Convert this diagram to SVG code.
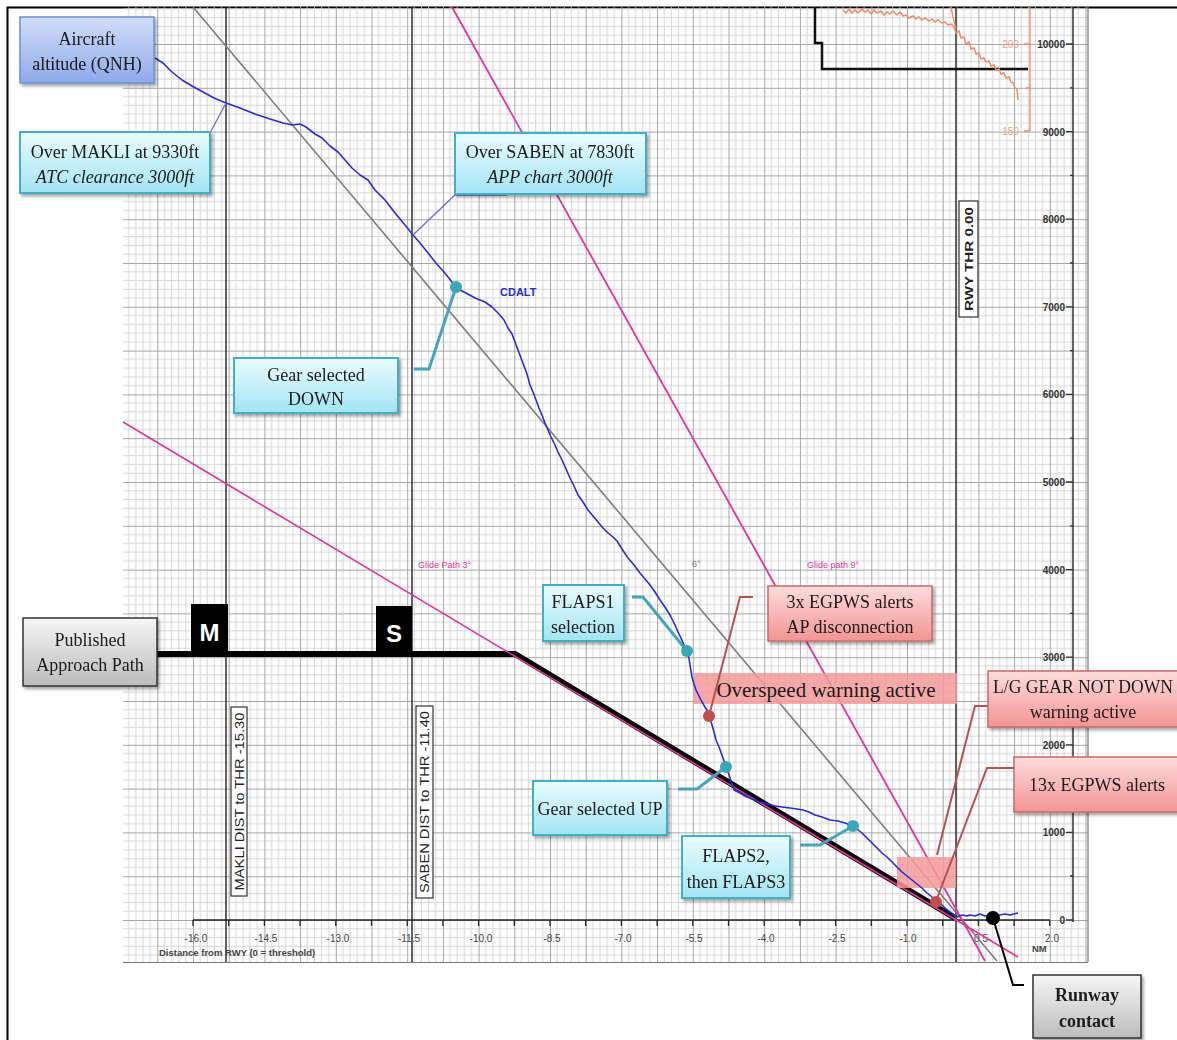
<svg xmlns="http://www.w3.org/2000/svg" width="1177" height="1040" viewBox="0 0 1177 1040">
<style>
.box{font-family:"Liberation Serif","Times New Roman",serif;font-size:18px;fill:#1a1a1a;text-anchor:middle}
.it{font-style:italic}
.ax{font-family:"Liberation Sans",Arial,sans-serif;font-size:9.5px;font-weight:bold;fill:#444}
.ay{font-family:"Liberation Sans",Arial,sans-serif;font-size:10px;font-weight:bold;fill:#333}
.vl{fill:#fff;stroke:#333;stroke-width:1.2}
.vt{font-family:"Liberation Sans",Arial,sans-serif;font-size:12px;fill:#222;text-anchor:middle}
.cyan{fill:url(#gCyan);stroke:#3fb0c8;stroke-width:2}
.red{fill:url(#gRed);stroke:#c86a6a;stroke-width:1.5}
.gray{fill:url(#gGray);stroke:#333;stroke-width:1.5}
.tl{fill:none;stroke:#44a6b8;stroke-width:3}
.rl{fill:none;stroke:#b5524d;stroke-width:2}
</style>
<defs>
<pattern id="grid" patternUnits="userSpaceOnUse" x="193" y="920" width="35.7" height="43.8">
<path d="M7.14 0V43.8M14.28 0V43.8M21.42 0V43.8M28.56 0V43.8M0 8.76H35.7M0 17.52H35.7M0 26.28H35.7M0 35.04H35.7" stroke="#d2d2d2" stroke-width="0.9" fill="none"/>
<path d="M0.5 0V43.8M0 0.5H35.7" stroke="#a6a6a6" stroke-width="1" fill="none"/>
</pattern>
<linearGradient id="gCyan" x1="0" y1="0" x2="0" y2="1"><stop offset="0" stop-color="#eafcff"/><stop offset="1" stop-color="#a3e4f3"/></linearGradient>
<linearGradient id="gBlue" x1="0" y1="0" x2="0" y2="1"><stop offset="0" stop-color="#d3defa"/><stop offset="1" stop-color="#8eaaea"/></linearGradient>
<linearGradient id="gRed" x1="0" y1="0" x2="0" y2="1"><stop offset="0" stop-color="#ffdcdc"/><stop offset="1" stop-color="#f29494"/></linearGradient>
<linearGradient id="gGray" x1="0" y1="0" x2="0" y2="1"><stop offset="0" stop-color="#f6f6f6"/><stop offset="1" stop-color="#bcbcbc"/></linearGradient>
<filter id="sh" x="-10%" y="-10%" width="130%" height="140%"><feDropShadow dx="2" dy="2.5" stdDeviation="1.5" flood-color="#000" flood-opacity="0.35"/></filter>
</defs>
<rect width="1177" height="1040" fill="#fff"/>
<g id="frame">
<path d="M7.5 1040V7.5H1177" fill="none" stroke="#000" stroke-width="2"/>
</g>
<g id="chart">
<rect x="123" y="7" width="965" height="955" fill="url(#grid)"/>
<path d="M123 962.5H1088M1088 7V962" stroke="#777" stroke-width="1.2" fill="none"/>
<path d="M226 7V962M412 7V962M956 7V962" stroke="#222" stroke-width="1.4" fill="none"/>
<!-- x axis -->
<path d="M193 920H1050" stroke="#222" stroke-width="1.5"/>
<path d="M193 920v6M228.7 920v6M264.4 920v6M300.1 920v6M335.8 920v6M371.5 920v6M407.2 920v6M442.9 920v6M478.6 920v6M514.3 920v6M550 920v6M585.7 920v6M621.4 920v6M657.1 920v6M692.8 920v6M728.5 920v6M764.2 920v6M799.9 920v6M835.6 920v6M871.3 920v6M907 920v6M942.7 920v6M978.4 920v6M1014.1 920v6M1049.8 920v6" stroke="#222" stroke-width="1.3"/>
<g class="ax" text-anchor="middle" style="font-weight:normal;font-size:10px">
<text x="196" y="942">-16.0</text><text x="266" y="942">-14.5</text><text x="338" y="942">-13.0</text><text x="409" y="942">-11.5</text><text x="481" y="942">-10.0</text><text x="552" y="942">-8.5</text><text x="623" y="942">-7.0</text><text x="694" y="942">-5.5</text><text x="766" y="942">-4.0</text><text x="837" y="942">-2.5</text><text x="908" y="942">-1.0</text><text x="981" y="942">0.5</text><text x="1052" y="942">2.0</text>
</g>
<text class="ax" x="159" y="956">Distance from RWY (0 = threshold)</text>
<text class="ax" x="1032" y="952">NM</text>
<!-- y axis -->
<path d="M1073 7V922" stroke="#333" stroke-width="1.5"/>
<path d="M1066 920H1073M1070 876H1073M1066 832.4H1073M1070 788.6H1073M1066 744.8H1073M1070 701H1073M1066 657.2H1073M1070 613.4H1073M1066 569.6H1073M1070 525.8H1073M1066 482H1073M1070 438.2H1073M1066 394.4H1073M1070 350.6H1073M1066 306.8H1073M1070 263H1073M1066 219.2H1073M1070 175.4H1073M1066 131.6H1073M1070 87.8H1073M1066 44H1073" stroke="#333" stroke-width="1.3"/>
<g class="ay" text-anchor="end">
<text x="1065" y="923.5">0</text><text x="1065" y="836">1000</text><text x="1065" y="748.5">2000</text><text x="1065" y="661">3000</text><text x="1065" y="573.5">4000</text><text x="1065" y="485.5">5000</text><text x="1065" y="398">6000</text><text x="1065" y="310.5">7000</text><text x="1065" y="223">8000</text><text x="1065" y="135.5">9000</text><text x="1065" y="47.5">10000</text>
</g>
<!-- top right inset -->
<path d="M815 7V43H822V69H1028" fill="none" stroke="#111" stroke-width="2.5"/>
<path d="M1030 7V131M1024 44H1030M1026 88H1030M1024 131H1030" stroke="#f08a6a" stroke-width="1.3" fill="none"/>
<text x="1019" y="47.5" font-family="Liberation Sans,Arial,sans-serif" font-size="10" fill="#f4a083" text-anchor="end">200</text>
<text x="1019" y="134.5" font-family="Liberation Sans,Arial,sans-serif" font-size="10" fill="#f4a083" text-anchor="end">150</text>
<path d="M843 10L846 13 849 9 852 13 855 10 858 13 862 9 865 12 868 10 871 14 874 10 877 13 881 11 884 15 887 12 890 14 893 11 897 15 900 12 903 16 906 15 909 18 913 16 916 19 919 17 922 20 925 18 929 21 932 19 935 22 938 20 942 23 945 22 948 25 951 24 954 27 956 33 959 31 961 38 964 37 966 44 969 42 971 49 974 48 976 54 979 53 981 59 984 58 986 62 989 61 991 66 994 65 996 70 999 69 1001 74 1004 73 1006 78 1009 77 1011 82 1013 83 1015 88 1017 89 1018 100" fill="none" stroke="#f08a6a" stroke-width="1.5"/>
<path d="M951 7l2 10 3 12" fill="none" stroke="#f08a6a" stroke-width="1.3"/>
<!-- reference glide lines -->
<path d="M193 7L997 961" stroke="#7d7d7d" stroke-width="1.6"/>
<path d="M452 7L985 961" stroke="#e0359a" stroke-width="1.8"/>
<!-- published approach path -->
<path d="M157 654H515L955 918" fill="none" stroke="#000" stroke-width="6"/>
<path d="M123 422L1018 957" stroke="#e0359a" stroke-width="1.6"/>
<g id="M"><rect x="191" y="604" width="37" height="50" fill="#000"/><text x="209.5" y="641" font-family="Liberation Sans,Arial,sans-serif" font-size="24" font-weight="bold" fill="#fff" text-anchor="middle">M</text></g>
<g id="S"><rect x="376" y="606" width="36" height="48" fill="#000"/><text x="394" y="642" font-family="Liberation Sans,Arial,sans-serif" font-size="24" font-weight="bold" fill="#fff" text-anchor="middle">S</text></g>
<!-- chart labels -->
<text x="418" y="568" font-family="Liberation Sans,Arial,sans-serif" font-size="9" fill="#e0359a">Glide Path 3°</text>
<text x="692" y="567" font-family="Liberation Sans,Arial,sans-serif" font-size="9" fill="#777">6°</text>
<text x="807" y="568" font-family="Liberation Sans,Arial,sans-serif" font-size="9" fill="#e0359a">Glide path 9°</text>
<text x="500" y="296" font-family="Liberation Sans,Arial,sans-serif" font-size="11" font-weight="bold" fill="#2a2acc">CDALT</text>
<!-- vertical labels -->
<g id="makli-label"><rect class="vl" x="231" y="707" width="16" height="189"/><text class="vt" transform="translate(243.5,801.5) rotate(-90)" textLength="178" lengthAdjust="spacingAndGlyphs">MAKLI DIST to THR -15.30</text></g>
<g id="saben-label"><rect class="vl" x="416" y="706" width="17" height="192"/><text class="vt" transform="translate(429,802) rotate(-90)" textLength="182" lengthAdjust="spacingAndGlyphs">SABEN DIST to THR -11.40</text></g>
<g id="rwy-label"><rect class="vl" x="959" y="201" width="19" height="116"/><text class="vt" style="font-weight:bold;font-size:11px" transform="translate(972.5,259) rotate(-90)" textLength="104" lengthAdjust="spacingAndGlyphs">RWY THR  0.00</text></g>
<!-- warning bands -->
<rect x="694" y="673" width="263" height="31" fill="#f39a9a" opacity="0.85"/>
<text class="box" x="826" y="697" style="font-size:21px">Overspeed warning active</text>
<rect x="897" y="857" width="59" height="31" fill="#f39a9a" opacity="0.85"/>
<!-- altitude trace -->
<path d="M155 58L163 63 172 72 182 80 192 86 203 92 214 98 226 103 240 108 255 114 270 119 283 123 292 125 300 124 306 127 315 134 322 138 330 146 338 152 345 160 352 168 360 175 368 180 375 190 385 200 395 213 405 225 413 235 420 243 428 253 436 263 444 272 452 282 458 289 466 293 475 298 485 302 492 307 498 313 504 320 508 328 512 334 515 342 518 350 521 358 524 366 527 374 530 385 533 392 536 400 539 408 542 415 545 423 548 430 551 437 555 445 558 452 562 460 566 469 570 478 574 486 578 495 583 502 588 510 593 516 598 522 603 528 608 533 613 537 617 541 622 549 628 558 634 565 640 573 645 579 650 585 655 592 660 600 665 607 670 615 674 623 678 632 681 638 684 645 688 652 690 665 692 677 694 684 696 690 699 696 702 702 705 707 708 712 710 718 712 725 714 732 716 740 719 747 722 755 724 761 726 767 728 772 730 778 732 784 734 790 740 793 745 796 752 799 760 802 768 804 775 806 782 807 790 808 797 809 803 810 809 812 815 815 822 817 830 820 838 821 845 823 853 826 857 829 862 833 867 838 872 843 877 848 882 853 887 857 892 862 897 867 902 872 907 876 912 880 917 884 922 888 927 893 932 897 937 901 942 905 946 909 950 912 957 917 962 915 967 916 970 915 975 916 980 914 985 916 990 915 995 916 1000 915 1005 914 1010 915 1018 913" fill="none" stroke="#2b2bd6" stroke-width="1.6" stroke-linejoin="round"/>
</g>
<g id="connectors">
<path d="M210 133L226 103" stroke="#6b6be0" stroke-width="1.3" fill="none"/>
<path d="M507 195H455L413 235" stroke="#6b6be0" stroke-width="1.3" fill="none"/>
<path class="tl" d="M456 287L429 369H414"/>
<path class="tl" d="M632 597H643L687 651"/>
<path class="tl" d="M726 767L697 789H678"/>
<path class="tl" d="M853 826L820 845H800"/>
<path class="rl" d="M709 716L740 597H753"/>
<path class="rl" d="M937 855L975 706H988"/>
<path class="rl" d="M936 901L987 768H1014"/>
<path d="M993 918L1013 985H1024" fill="none" stroke="#000" stroke-width="2"/>
<circle cx="456" cy="287" r="6" fill="#3aa7b9"/>
<circle cx="687" cy="651" r="6" fill="#3aa7b9"/>
<circle cx="726" cy="767" r="6" fill="#3aa7b9"/>
<circle cx="853" cy="826" r="6" fill="#3aa7b9"/>
<circle cx="709" cy="716" r="6" fill="#c0504d"/>
<circle cx="936" cy="902" r="6" fill="#c0504d"/>
<circle cx="993" cy="918" r="7" fill="#000"/>
</g>
<g id="aircraft-altitude" filter="url(#sh)"><rect x="20" y="17" width="134" height="66" fill="url(#gBlue)" stroke="#6a8fd8" stroke-width="1.5"/><text class="box" x="87" y="45">Aircraft</text><text class="box" x="87" y="70">altitude (QNH)</text></g>
<g id="over-makli" filter="url(#sh)"><rect class="cyan" x="20" y="132" width="190" height="61"/><text class="box" x="115" y="158">Over MAKLI at 9330ft</text><text class="box it" x="115" y="183">ATC clearance 3000ft</text></g>
<g id="over-saben" filter="url(#sh)"><rect class="cyan" x="455" y="133" width="191" height="61"/><text class="box" x="550" y="158">Over SABEN at 7830ft</text><text class="box it" x="550" y="183">APP chart 3000ft</text></g>
<g id="gear-down" filter="url(#sh)"><rect class="cyan" x="234" y="358" width="164" height="55"/><text class="box" x="316" y="381">Gear selected</text><text class="box" x="316" y="405">DOWN</text></g>
<g id="published-path" filter="url(#sh)"><rect class="gray" x="23" y="618" width="134" height="68"/><text class="box" x="90" y="646">Published</text><text class="box" x="90" y="671">Approach Path</text></g>
<g id="flaps1" filter="url(#sh)"><rect class="cyan" x="543" y="585" width="81" height="56"/><text class="box" x="583" y="608">FLAPS1</text><text class="box" x="583" y="633">selection</text></g>
<g id="egpws3" filter="url(#sh)"><rect class="red" x="768" y="586" width="164" height="55"/><text class="box" x="850" y="608">3x EGPWS alerts</text><text class="box" x="850" y="633">AP disconnection</text></g>
<g id="lg-gear" filter="url(#sh)"><rect class="red" x="988" y="671" width="195" height="56"/><text class="box" x="1083" y="693" textLength="180" lengthAdjust="spacingAndGlyphs">L/G GEAR NOT DOWN</text><text class="box" x="1083" y="718">warning active</text></g>
<g id="egpws13" filter="url(#sh)"><rect class="red" x="1014" y="757" width="169" height="55"/><text class="box" x="1097" y="791">13x EGPWS alerts</text></g>
<g id="gear-up" filter="url(#sh)"><rect class="cyan" x="533" y="781" width="134" height="54"/><text class="box" x="600" y="815">Gear selected UP</text></g>
<g id="flaps2" filter="url(#sh)"><rect class="cyan" x="682" y="836" width="108" height="62"/><text class="box" x="736" y="862">FLAPS2,</text><text class="box" x="736" y="888">then FLAPS3</text></g>
<g id="runway-contact" filter="url(#sh)"><rect class="gray" x="1033" y="975" width="108" height="63"/><text class="box" x="1087" y="1001" font-weight="bold">Runway</text><text class="box" x="1087" y="1027" font-weight="bold">contact</text></g>
</svg>
